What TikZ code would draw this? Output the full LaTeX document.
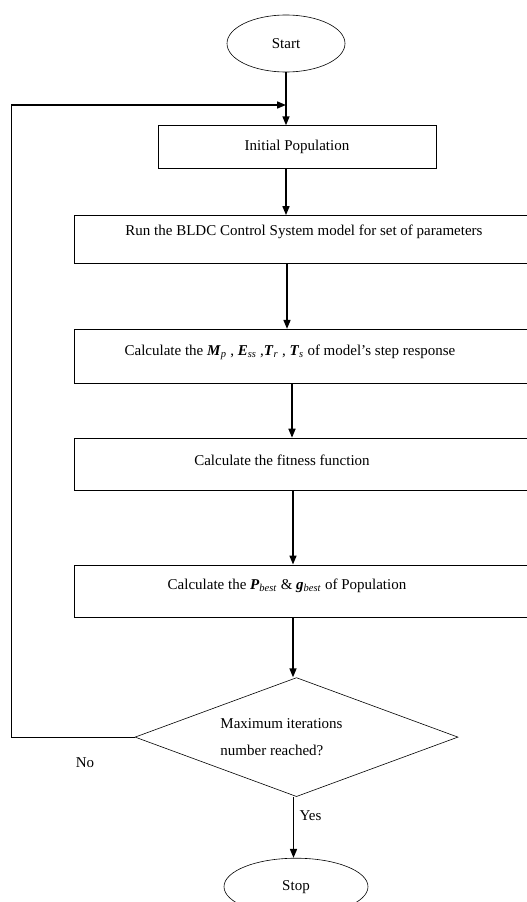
\documentclass[tikz,border=0pt]{standalone}
\usepackage{fontspec}
\setmainfont{Liberation Serif}
\usetikzlibrary{positioning,shapes.geometric,arrows.meta}
\newcommand{\varsub}[2]{\textbf{\textit{#1}}\textsubscript{\textit{#2}}}
\begin{document}
\begin{tikzpicture}[x=1pt, y=-1pt, thick,
	every node/.style={font=\fontsize{15}{17}\selectfont},
	term/.style = {draw, ellipse, line width=0.6pt, inner sep=0pt},
	box/.style = {draw, rectangle, line width=0.8pt, inner sep=0pt, minimum width=460pt},
	test/.style = {draw, diamond, line width=0.6pt, inner sep=0pt, minimum width=323pt, minimum height=119pt},
	arr/.style = {line width=1.6pt, -{Triangle[length=9pt,width=7pt]}}]
	\useasboundingbox (0,0) rectangle (527,902);
	\node[term, minimum width=118pt, minimum height=57pt] (start) at (286,43.5) {Start};
	\node[box, minimum width=278pt, minimum height=43pt] (init)[below=53pt of start, xshift=11pt] {Initial Population};
	\node[box, minimum height=48pt, label={[yshift=8pt]center:Run the BLDC Control System model for set of parameters}] (run)[below=46pt of init, xshift=7pt] {};
	\node[box, minimum height=54pt, label={[xshift=-14pt, yshift=4pt]center:Calculate the \varsub{M}{p} , \varsub{E}{ss} ,\varsub{T}{r} , \varsub{T}{s} of model’s step response}] (calc)[below=65pt of run] {};
	\node[box, minimum height=52pt, label={[xshift=-22pt, yshift=4pt]center:Calculate the fitness function}] (fit)[below=54pt of calc] {};
	\node[box, minimum height=52pt, label={[xshift=-17pt, yshift=5pt]center:Calculate the \varsub{P}{best} \& \varsub{g}{best} of Population}] (best)[below=74pt of fit] {};
	\node[test] (max)[below=60pt of best, xshift=-7.5pt] {};
	\node[align=left, font=\fontsize{15}{27}\selectfont] (maxt) at ([xshift=-15pt]max.center) {Maximum iterations\\number reached?};
	\node[term, minimum width=144pt, minimum height=57pt] (stop)[below=61pt of max, xshift=-0.5pt] {Stop};
	\coordinate (loop) at (11,105);
	
	\draw[arr] (start) -- (start |- init.north);
	\draw[arr] (init.south -| start) -- (run.north -| start);
	\draw[arr] ([xshift=-17pt]run.south) -- ([xshift=-17pt]calc.north);
	\draw[arr] ([xshift=-12pt]calc.south) -- ([xshift=-12pt]fit.north);
	\draw[arr] ([xshift=-11pt]fit.south) -- ([xshift=-11pt]best.north);
	\draw[arr] ([xshift=-11pt]best.south) -- ([xshift=-11pt]best.south |- max.north);
	\draw[arr] ([xshift=-3pt]max.south) -- ([xshift=-3pt]max.south |- stop.north) node[pos=0.3, right=2pt] (yes) {Yes};
	\draw[line width=0.8pt] (max.west) -| (loop);
	\draw[arr] (loop) -- (loop -| start);
	\node (no) at (85,763) {No};
	
\end{tikzpicture}
\end{document}
